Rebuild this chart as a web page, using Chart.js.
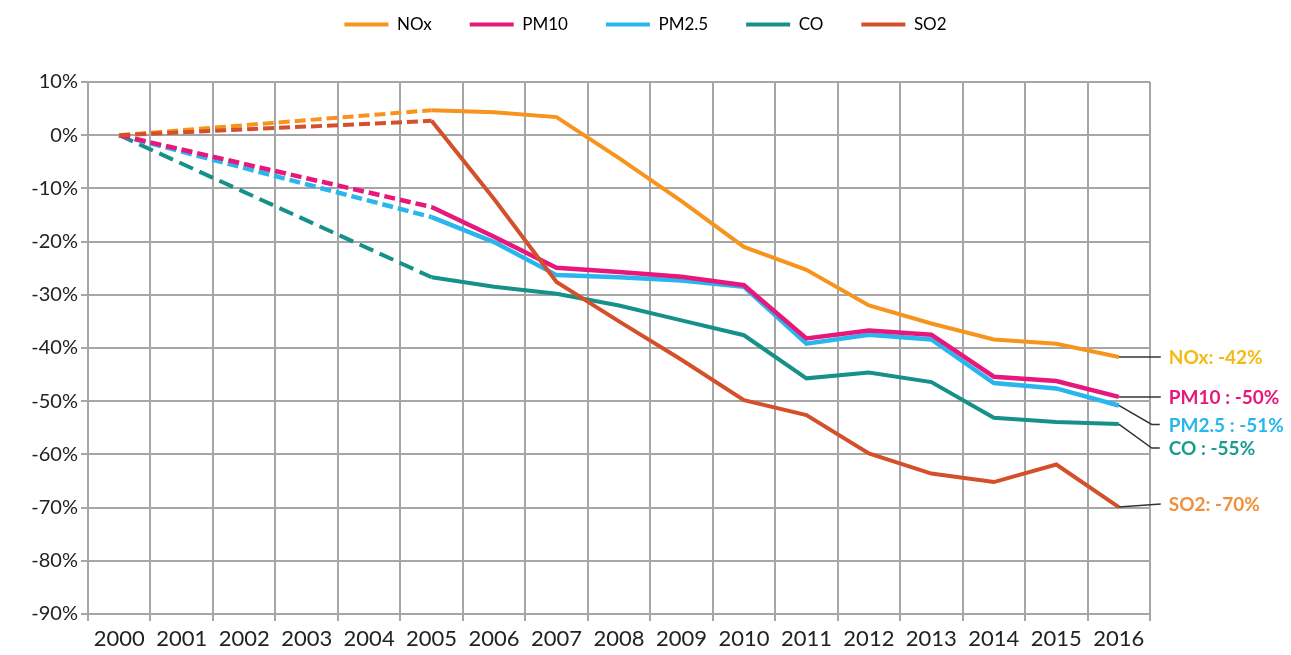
<!DOCTYPE html>
<html>
<head>
<meta charset="utf-8">
<script src="https://cdn.jsdelivr.net/npm/chart.js@4"></script>
<style>
  html, body { margin: 0; padding: 0; background: #fff; }
  #wrap { width: 1291px; height: 655px; }
</style>
</head>
<body>
<div id="wrap"><canvas id="chart" width="1291" height="655"></canvas></div>
<script>
// years on the x axis
const years = ['2000', '2001', '2002', '2003', '2004', '2005', '2006', '2007', '2008',
  '2009', '2010', '2011', '2012', '2013', '2014', '2015', '2016'];

// % change since 2000 (2001-2004 not reported, drawn dashed)
const nox  = [0, null, null, null, null, 4.7, 4.3, 3.4, -4.3, -12.4, -21.0, -25.3, -32.0, -35.4, -38.4, -39.2, -41.7];
const pm10 = [0, null, null, null, null, -13.5, -19.1, -24.9, -25.7, -26.6, -28.2, -38.2, -36.7, -37.5, -45.4, -46.2, -49.2];
const pm25 = [0, null, null, null, null, -15.4, -20.1, -26.3, -26.7, -27.3, -28.5, -39.2, -37.5, -38.4, -46.6, -47.6, -50.8];
const co   = [0, null, null, null, null, -26.7, -28.5, -29.8, -32.0, -34.8, -37.6, -45.7, -44.6, -46.4, -53.1, -53.9, -54.3];
const so2  = [0, null, null, null, null, 2.7, -12.0, -27.6, -35.0, -42.2, -49.8, -52.6, -59.8, -63.6, -65.2, -61.9, -69.9];

const seriesNames = ['NOx', 'PM10', 'PM2.5', 'CO', 'SO2'];
const endLabels = ['NOx: -42%', 'PM10 : -50%', 'PM2.5 : -51%', 'CO : -55%', 'SO2: -70%'];

const yTicks = { min: -90, max: 10, step: 10 };

const lineColors = ['#f7941d', '#e8177b', '#29b6ee', '#15918a', '#d4502a'];
const labelColors = ['#f5b914', '#e8177b', '#29b6ee', '#1a9c92', '#f0903a'];

// where the end labels sit, relative to the last point (dy) and an elbow
const labelLayout = [
  { dy: 0, elbow: false },
  { dy: 0, elbow: false },
  { dy: 19, elbow: true },
  { dy: 24, elbow: true },
  { dy: -3, elbow: false }
];

const FONT = 'Lato, "Open Sans", sans-serif';

const allSeries = [nox, pm10, pm25, co, so2];
const widths = [4, 4.5, 4.5, 4, 4];
const dashes = [[11, 5], [11, 5], [11, 5], [15, 7], [11, 5]];

// dashed where the segment jumps over missing years
function gapDash(data, dash) {
  return ctx => (data[ctx.p0DataIndex] === null ? dash : undefined);
}

const datasets = allSeries.map((data, i) => ({
  label: seriesNames[i],
  data: data,
  xAxisID: 'x',
  yAxisID: 'y',
  borderColor: lineColors[i],
  backgroundColor: lineColors[i],
  borderWidth: widths[i],
  pointRadius: 0,
  pointHoverRadius: 0,
  tension: 0,
  spanGaps: true,
  borderCapStyle: 'butt',
  segment: { borderDash: gapDash(data, dashes[i]) },
  order: i === 4 ? 0 : i + 1
}));

const endLabelPlugin = {
  id: 'endLabels',
  afterDatasetsDraw(chart) {
    const c = chart.ctx;
    c.save();
    chart.data.datasets.forEach((ds, i) => {
      const meta = chart.getDatasetMeta(i);
      const pt = meta.data[meta.data.length - 1];
      const lay = labelLayout[i];
      const x0 = pt.x, y0 = pt.y;
      const ty = y0 + lay.dy;
      c.strokeStyle = '#333';
      c.lineWidth = 1.5;
      c.beginPath();
      c.moveTo(x0, y0);
      if (lay.elbow) {
        c.lineTo(x0 + 33, ty);
        c.lineTo(x0 + 41, ty);
      } else {
        c.lineTo(x0 + 42, ty);
      }
      c.stroke();
      c.fillStyle = labelColors[i];
      c.font = 'bold 19px ' + FONT;
      c.textAlign = 'left';
      c.textBaseline = 'middle';
      c.fillText(endLabels[i], x0 + 50, ty + 1);
    });
    c.restore();
  }
};

new Chart(document.getElementById('chart'), {
  type: 'line',
  data: { labels: years, datasets: datasets },
  plugins: [endLabelPlugin],
  options: {
    responsive: false,
    animation: false,
    layout: { padding: { left: 0, right: 0, top: -22, bottom: 0 } },
    plugins: {
      tooltip: { enabled: false },
      legend: {
        position: 'top',
        labels: {
          boxWidth: 44,
          boxHeight: 4,
          padding: 38,
          color: '#404040',
          font: { family: FONT, size: 17 },
          generateLabels(chart) {
            return chart.data.datasets.map((ds, i) => ({
              text: ds.label,
              fillStyle: ds.borderColor,
              strokeStyle: ds.borderColor,
              lineWidth: 0,
              datasetIndex: i
            }));
          }
        }
      }
    },
    scales: {
      x: {
        offset: true,
        grid: { offset: true, color: '#a6a6a6', lineWidth: 2, tickLength: 7 },
        border: { color: '#a6a6a6', width: 2 },
        ticks: { color: '#222', font: { family: FONT, size: 22 }, maxRotation: 0, autoSkip: false, padding: 5 },
        afterFit(s) { s.height = 41; }
      },
      // empty spacers: gap under the legend, room for the end labels
      gapTop: {
        type: 'category',
        position: 'top',
        grid: { display: false },
        border: { display: false },
        ticks: { display: false },
        afterFit(s) { s.height = 39; }
      },
      gapRight: {
        type: 'linear',
        position: 'right',
        min: 0,
        max: 1,
        grid: { display: false },
        border: { display: false },
        ticks: { display: false },
        afterFit(s) { s.width = 141; }
      },
      y: {
        min: yTicks.min,
        max: yTicks.max,
        grid: { color: '#a6a6a6', lineWidth: 2, tickLength: 7 },
        border: { color: '#a6a6a6', width: 2 },
        ticks: {
          stepSize: yTicks.step,
          color: '#222',
          font: { family: FONT, size: 20 },
          padding: 3,
          callback: v => v + '%'
        },
        afterFit(s) { s.width = 88; }
      }
    }
  }
});
</script>
</body>
</html>
